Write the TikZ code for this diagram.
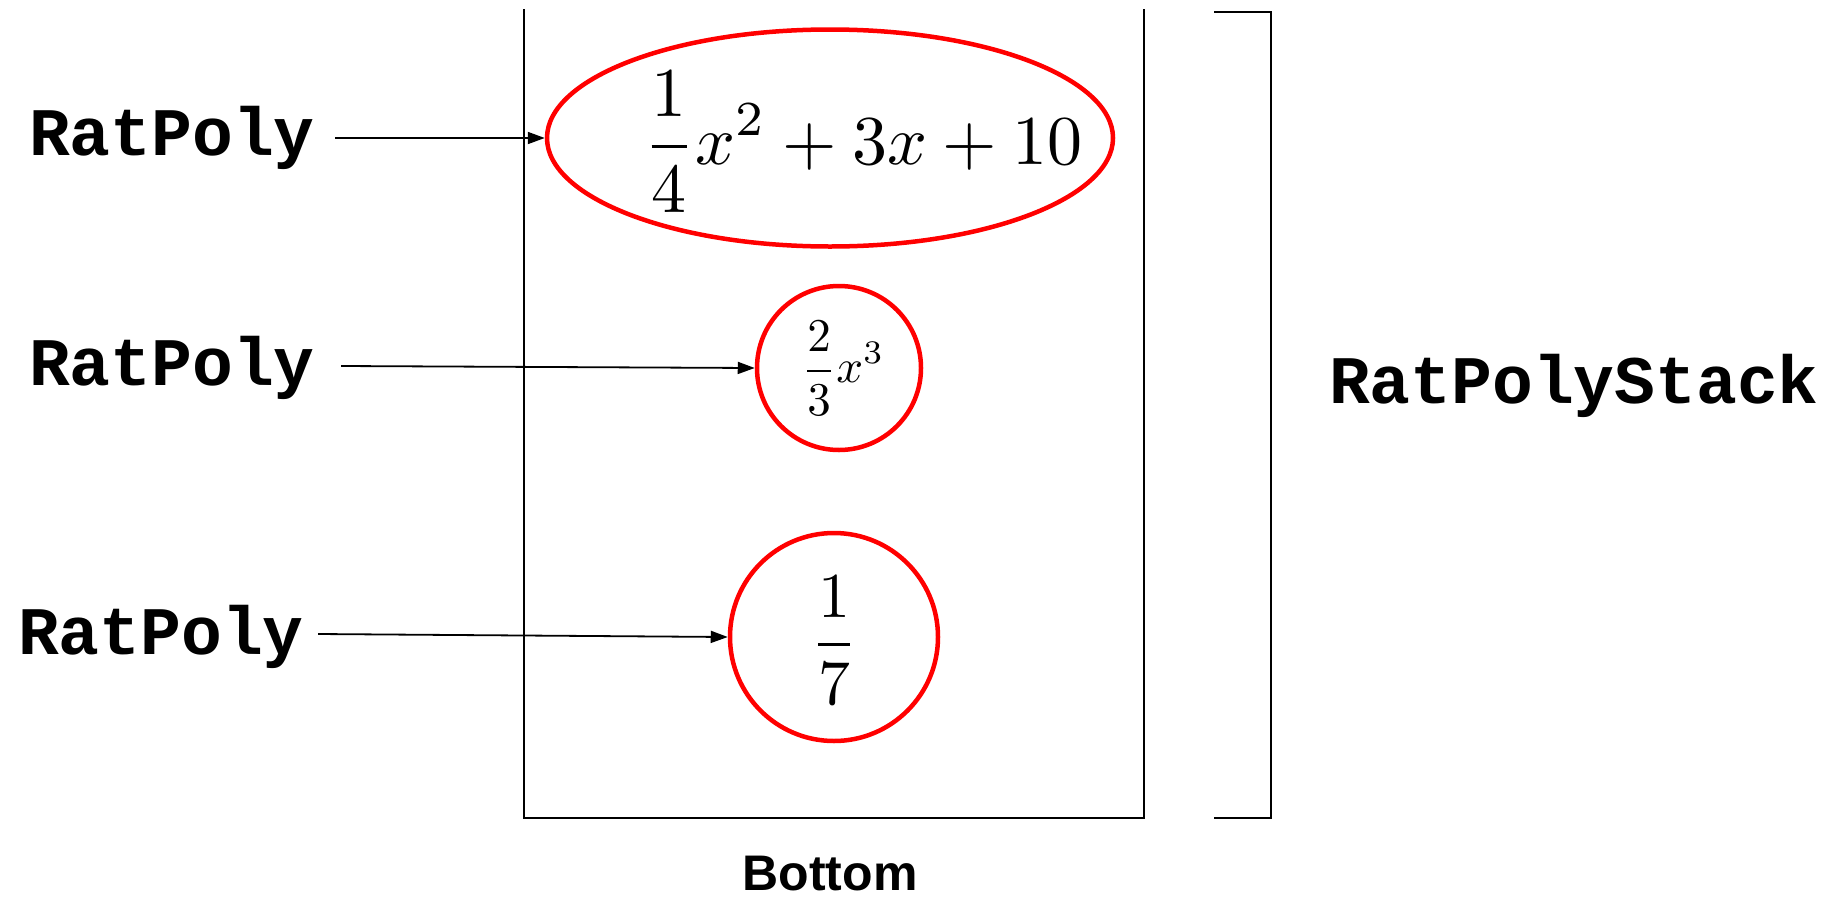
\documentclass[tikz,border=0pt]{standalone}
\usepackage{fontspec}
\usepackage{graphicx}
\setmonofont{Liberation Mono}
\newfontfamily\arialfont{Liberation Sans}
\usetikzlibrary{shapes.geometric,arrows.meta}
\begin{document}
\begin{tikzpicture}[x=1pt,y=-1pt,
  lbl/.style={font=\fontsize{68}{70}\selectfont\ttfamily\bfseries, inner sep=0pt},
  poly/.style={draw=red, line width=4.5pt, inner sep=0pt},
  conn/.style={line width=1.8pt, -{Triangle[length=17pt,width=12pt]}},
  wall/.style={line width=2pt}]
\useasboundingbox (0,0) rectangle (1845,900);
% stack box
\draw[wall] (524,9) -- (524,818) -- (1144,818) -- (1144,9);
% bracket
\draw[wall] (1214,12) -- (1271,12) -- (1271,818) -- (1214,818);
% polynomials
\node[poly, ellipse, minimum width=566pt, minimum height=217pt] (e1) at (830,138) {};
\node at ([xshift=33pt,yshift=-4pt]e1.center) {\scalebox{7.0}{$\displaystyle \frac{1}{4}x^{2}+3x+10$}};
\node[poly, circle, minimum size=164pt] (e2) at (839,368) {};
\node at ([xshift=4pt]e2.center) {\scalebox{4.7}{$\displaystyle \frac{2}{3}x^{3}$}};
\node[poly, circle, minimum size=208pt] (e3) at (834,637) {};
\node at ([yshift=-3pt]e3.center) {\scalebox{6.4}{$\displaystyle \frac{1}{7}$}};
% labels
\node[lbl] (l1) at (172,138) {RatPoly};
\node[lbl] (l2) at (172,368) {RatPoly};
\node[lbl] (l3) at (161,637) {RatPoly};
\node[lbl] (stk) at (1574,386) {RatPolyStack};
\node[font=\fontsize{50}{52}\selectfont\arialfont\bfseries, inner sep=0pt] (bot) at (830,874) {Bottom};
% connectors
\draw[conn] (l1.east) ++(20,0) -- (e1.west);
\draw[conn] (l2.east) ++(26,-2) -- (e2.west);
\draw[conn] (l3.east) ++(14,-3) -- (e3.west);
\end{tikzpicture}
\end{document}
